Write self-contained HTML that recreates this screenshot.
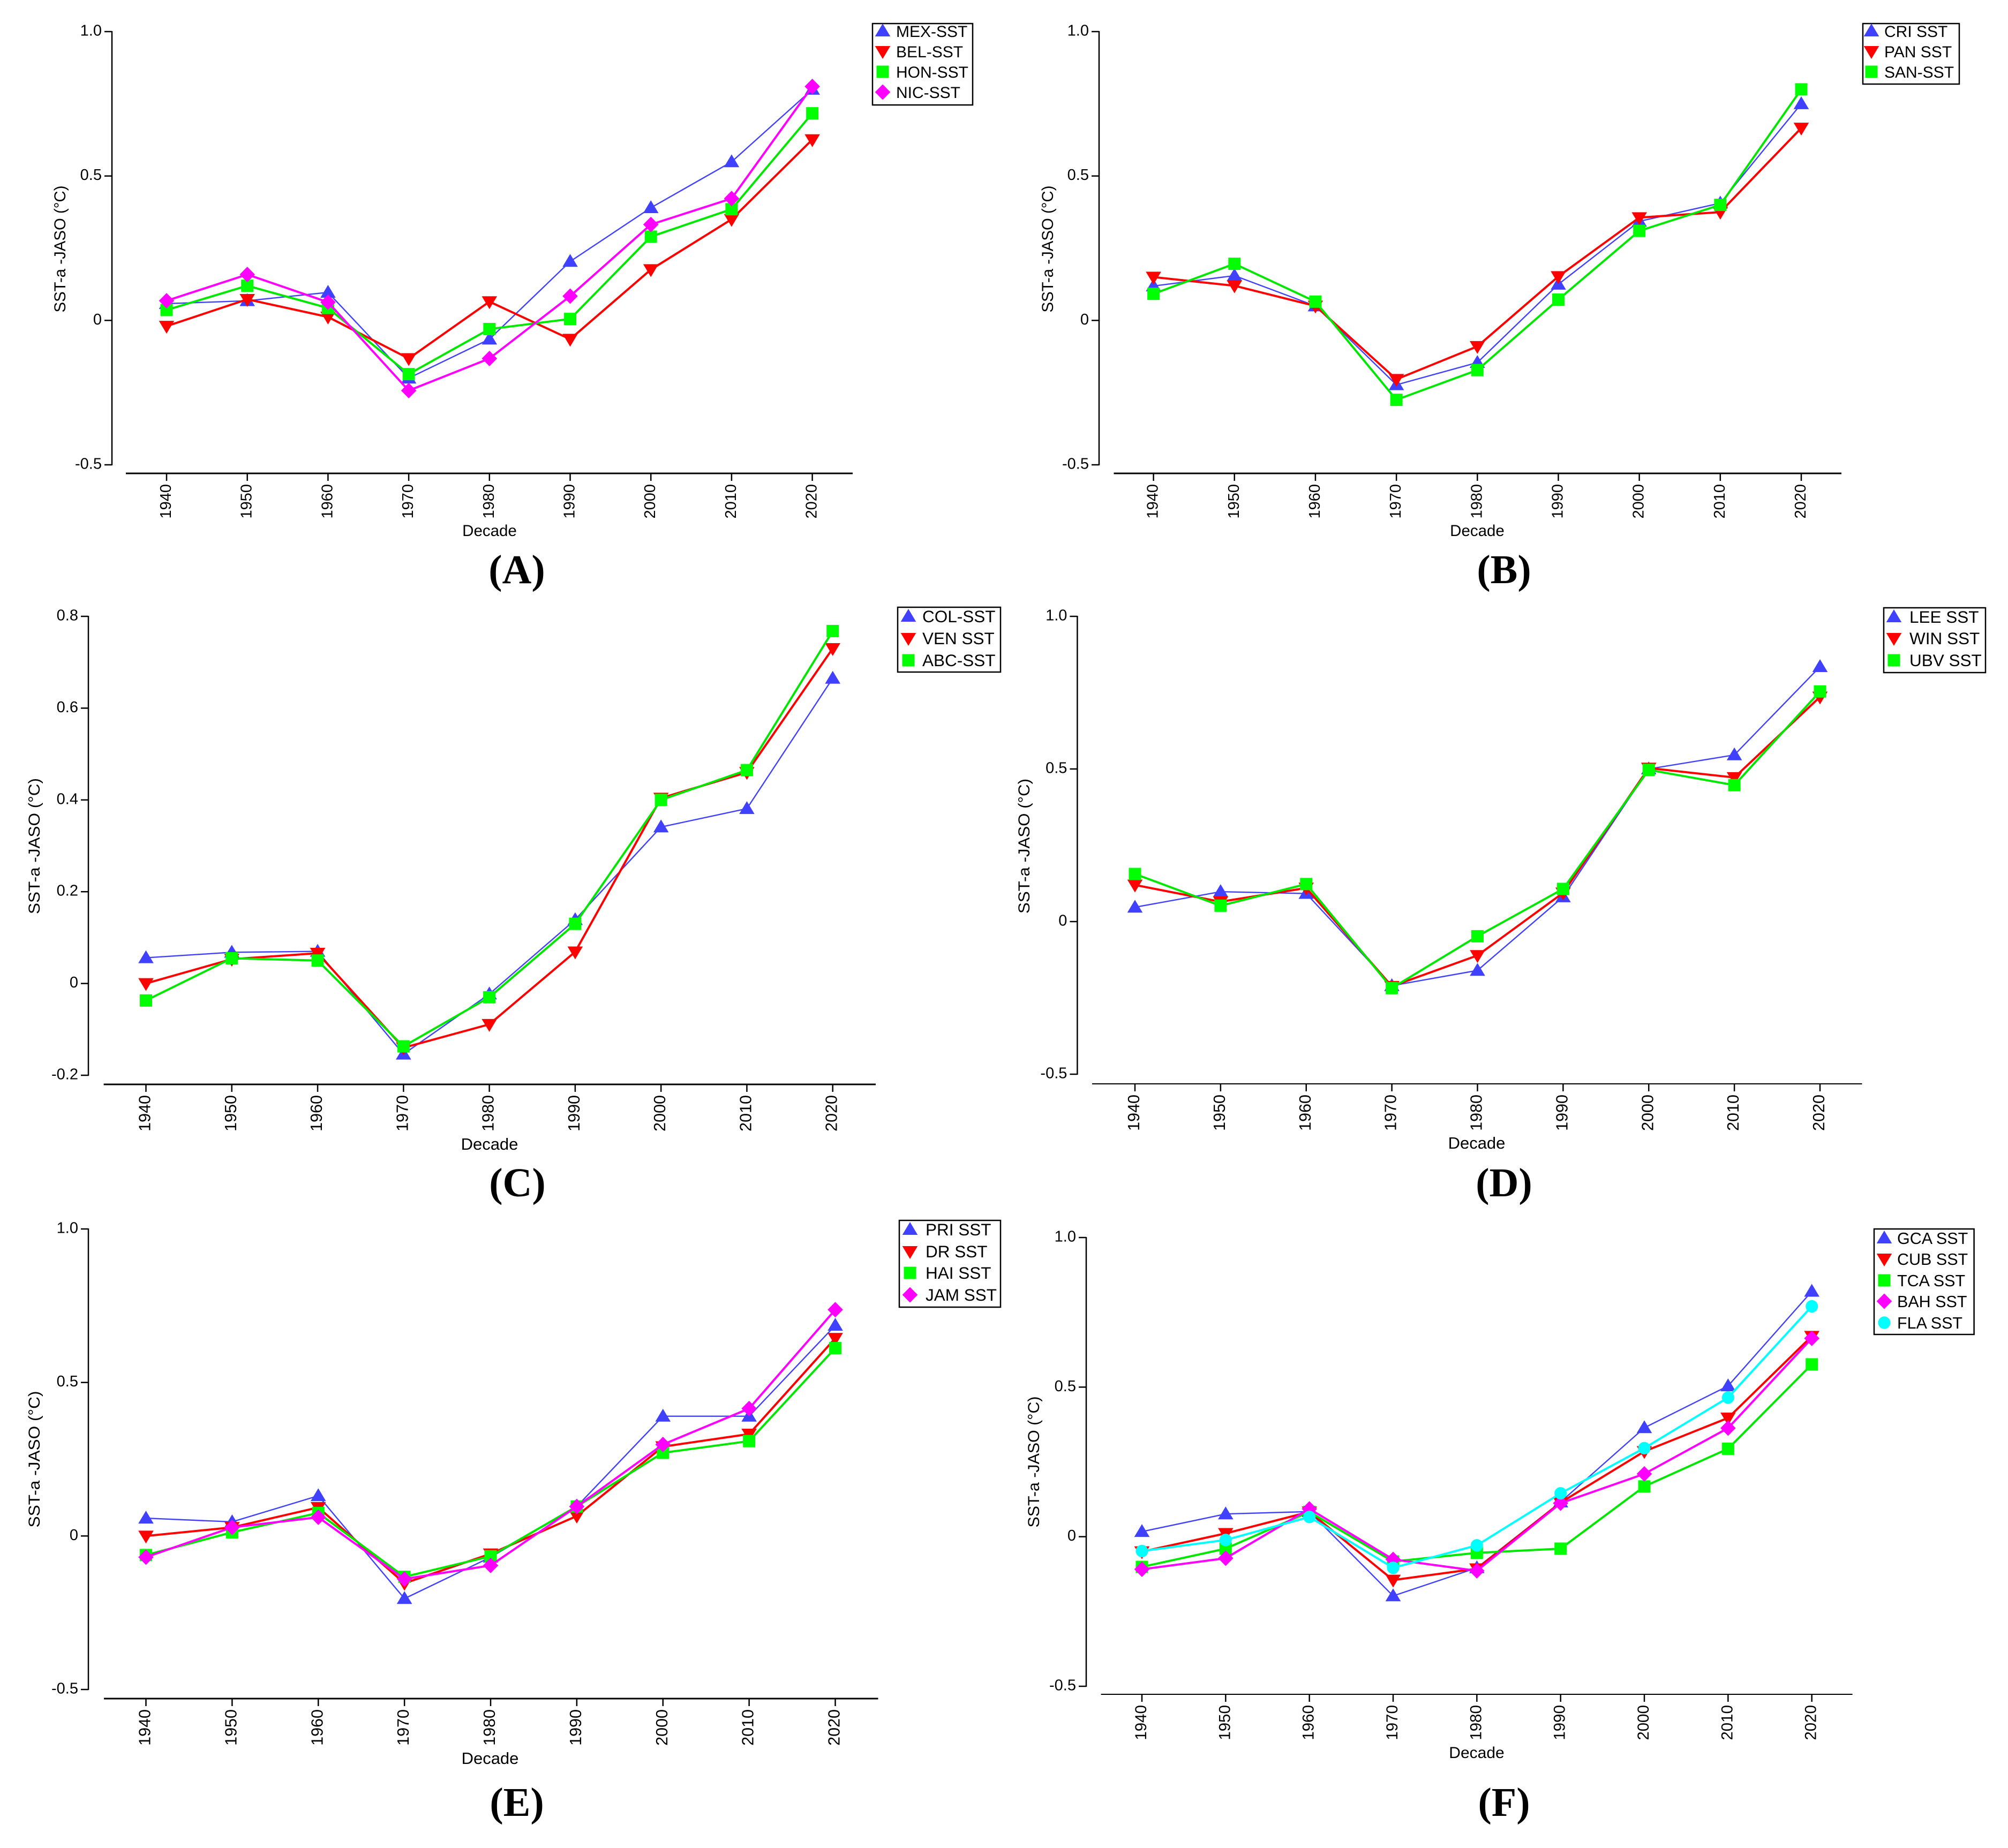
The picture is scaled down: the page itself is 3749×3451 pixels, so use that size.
<!DOCTYPE html>
<html lang="en">
<head>
<meta charset="utf-8">
<title>SST-a JASO by decade, panels A to F</title>
<style>
html,body{margin:0;padding:0;background:#fff;}
svg{display:block;}
text{font-family:"Liberation Sans",Arial,sans-serif;fill:#000;}
</style>
</head>
<body>
<svg id="figure" xmlns="http://www.w3.org/2000/svg" width="3749" height="3451" viewBox="0 0 3749 3451"></svg>
<script>
const decades = [1940, 1950, 1960, 1970, 1980, 1990, 2000, 2010, 2020];
const yTicksStandard = [-0.5, 0, 0.5, 1.0];
const yLabelsStandard = ['-0.5', '0', '0.5', '1.0'];
const yTicksC = [-0.2, 0, 0.2, 0.4, 0.6, 0.8];
const yLabelsC = ['-0.2', '0', '0.2', '0.4', '0.6', '0.8'];

const mexSst = [0.058, 0.068, 0.097, -0.200, -0.065, 0.204, 0.390, 0.549, 0.800];
const belSst = [-0.020, 0.073, 0.012, -0.132, 0.065, -0.065, 0.176, 0.350, 0.626];
const honSst = [0.036, 0.120, 0.043, -0.186, -0.030, 0.005, 0.290, 0.385, 0.717];
const nicSst = [0.068, 0.159, 0.063, -0.243, -0.132, 0.084, 0.332, 0.422, 0.810];

const criSst = [0.119, 0.155, 0.050, -0.223, -0.146, 0.125, 0.343, 0.406, 0.750];
const panSst = [0.150, 0.120, 0.050, -0.204, -0.090, 0.152, 0.356, 0.375, 0.666];
const sanSst = [0.092, 0.196, 0.065, -0.275, -0.172, 0.072, 0.310, 0.400, 0.800];

const colSst = [0.056, 0.068, 0.070, -0.154, -0.023, 0.139, 0.341, 0.381, 0.665];
const venSst = [0.000, 0.053, 0.066, -0.140, -0.089, 0.069, 0.404, 0.460, 0.730];
const abcSst = [-0.037, 0.055, 0.050, -0.137, -0.030, 0.130, 0.400, 0.465, 0.768];

const leeSst = [0.047, 0.098, 0.092, -0.210, -0.160, 0.081, 0.500, 0.546, 0.835];
const winSst = [0.120, 0.065, 0.110, -0.212, -0.111, 0.094, 0.503, 0.472, 0.736];
const ubvSst = [0.156, 0.052, 0.123, -0.218, -0.048, 0.107, 0.497, 0.447, 0.754];

const priSst = [0.058, 0.046, 0.131, -0.204, -0.069, 0.096, 0.390, 0.390, 0.686];
const drSst = [0.000, 0.028, 0.093, -0.154, -0.058, 0.065, 0.291, 0.332, 0.644];
const haiSst = [-0.062, 0.012, 0.075, -0.133, -0.066, 0.096, 0.271, 0.309, 0.612];
const jamSst = [-0.069, 0.028, 0.061, -0.140, -0.096, 0.096, 0.298, 0.415, 0.737];

const gcaSst = [0.017, 0.076, 0.084, -0.198, -0.104, 0.116, 0.364, 0.504, 0.820];
const cubSst = [-0.050, 0.011, 0.083, -0.145, -0.107, 0.114, 0.285, 0.397, 0.670];
const tcaSst = [-0.101, -0.040, 0.083, -0.083, -0.054, -0.040, 0.168, 0.294, 0.576];
const bahSst = [-0.109, -0.072, 0.093, -0.076, -0.114, 0.112, 0.210, 0.363, 0.663];
const flaSst = [-0.048, -0.011, 0.066, -0.104, -0.029, 0.145, 0.296, 0.465, 0.770];

const styleBlue = {color: '#4040ff', line: '#4040ff', width: 2.4, shape: 'up'};
const styleRed = {color: '#ff0000', line: '#ff0000', width: 4, shape: 'down'};
const styleGreen = {color: '#00ff00', line: '#00e800', width: 4, shape: 'square'};
const styleMagenta = {color: '#ff00ff', line: '#ff00ff', width: 4, shape: 'diamond'};
const styleCyan = {color: '#00ffff', line: '#00ffff', width: 4, shape: 'circle'};

const panels = [
  {id: 'A', ticks: yTicksStandard, labels: yLabelsStandard, axisX: 209, top: 59, bottom: 868, axisY: 884, left: 235, right: 1592, x0: 311, x1: 1516.6, axisW: 3, fs: 29.5,
   titleX: 122, titleY: 465, titleLen: 237, decadeX: 914, decadeY: 1001, capX: 965, capY: 1089,
   legend: {l: 1629, r: 1816, t: 44, b: 196, mx: 1648, tx: 1673, rows: [58, 96, 134, 172]},
   series: [['MEX-SST', mexSst, styleBlue], ['BEL-SST', belSst, styleRed], ['HON-SST', honSst, styleGreen], ['NIC-SST', nicSst, styleMagenta]]},
  {id: 'B', ticks: yTicksStandard, labels: yLabelsStandard, axisX: 2052, top: 59, bottom: 868, axisY: 884, left: 2079.5, right: 3438, x0: 2153.6, x1: 3363, axisW: 3, fs: 29.5,
   titleX: 1966, titleY: 465, titleLen: 237, decadeX: 2758, decadeY: 1001, capX: 2808, capY: 1089,
   legend: {l: 3478, r: 3658, t: 44, b: 157, mx: 3494, tx: 3518, rows: [58, 96, 134]},
   series: [['CRI SST', criSst, styleBlue], ['PAN SST', panSst, styleRed], ['SAN-SST', sanSst, styleGreen]]},
  {id: 'C', ticks: yTicksC, labels: yLabelsC, axisX: 165, top: 1151, bottom: 2008, axisY: 2025, left: 193.6, right: 1635, x0: 272.5, x1: 1554.7, axisW: 3, fs: 31,
   titleX: 74, titleY: 1580, titleLen: 254, decadeX: 914, decadeY: 2147, capX: 966, capY: 2234,
   legend: {l: 1676, r: 1868, t: 1134, b: 1255, mx: 1696, tx: 1722, rows: [1151, 1192, 1233]},
   series: [['COL-SST', colSst, styleBlue], ['VEN SST', venSst, styleRed], ['ABC-SST', abcSst, styleGreen]]},
  {id: 'D', ticks: yTicksStandard, labels: yLabelsStandard, axisX: 2011.4, top: 1151, bottom: 2006, axisY: 2024, left: 2039, right: 3476.5, x0: 2119, x1: 3398, axisW: 2, fs: 31,
   titleX: 1922, titleY: 1580, titleLen: 252, decadeX: 2757, decadeY: 2145, capX: 2808, capY: 2234,
   legend: {l: 3517, r: 3707, t: 1135, b: 1256, mx: 3536, tx: 3565, rows: [1152, 1192, 1233]},
   series: [['LEE SST', leeSst, styleBlue], ['WIN SST', winSst, styleRed], ['UBV SST', ubvSst, styleGreen]]},
  {id: 'E', ticks: yTicksStandard, labels: yLabelsStandard, axisX: 165, top: 2295, bottom: 3155, axisY: 3172, left: 194, right: 1639.5, x0: 272.5, x1: 1559.5, axisW: 3, fs: 31,
   titleX: 74, titleY: 2725, titleLen: 255, decadeX: 915, decadeY: 3294, capX: 965, capY: 3391,
   legend: {l: 1679, r: 1868, t: 2279, b: 2441, mx: 1699, tx: 1728, rows: [2296, 2337, 2377, 2418]},
   series: [['PRI SST', priSst, styleBlue], ['DR SST', drSst, styleRed], ['HAI SST', haiSst, styleGreen], ['JAM SST', jamSst, styleMagenta]]},
  {id: 'F', ticks: yTicksStandard, labels: yLabelsStandard, axisX: 2028, top: 2311, bottom: 3149, axisY: 3164, left: 2055.6, right: 3458.6, x0: 2132, x1: 3382.7, axisW: 2, fs: 30,
   titleX: 1940, titleY: 2730, titleLen: 245, decadeX: 2757, decadeY: 3283, capX: 2808, capY: 3391,
   legend: {l: 3499, r: 3685.6, t: 2295, b: 2492, mx: 3518, tx: 3542, rows: [2312, 2351, 2391, 2430, 2470]},
   series: [['GCA SST', gcaSst, styleBlue], ['CUB SST', cubSst, styleRed], ['TCA SST', tcaSst, styleGreen], ['BAH SST', bahSst, styleMagenta], ['FLA SST', flaSst, styleCyan]]}
];

const NS = 'http://www.w3.org/2000/svg';
const figure = document.getElementById('figure');

function slug(s) {
  return s.toLowerCase().replace(/[^a-z0-9]+/g, '-');
}

function node(parent, tag) {
  const n = document.createElementNS(NS, tag);
  parent.appendChild(n);
  return n;
}

function segment(parent, x1, y1, x2, y2, width) {
  const el = node(parent, 'line');
  
  
  el.setAttribute('x1', x1);
  el.setAttribute('y1', y1);
  el.setAttribute('x2', x2);
  el.setAttribute('y2', y2);
  el.setAttribute('stroke', '#000');
  el.setAttribute('stroke-width', width);
  return el;
}

function marker(parent, shape, cx, cy, color, name) {
  let el;
  if (shape === 'circle') {
    el = node(parent, 'ellipse');
    el.setAttribute('cx', cx);
    el.setAttribute('cy', cy);
    el.setAttribute('rx', 11.5);
    el.setAttribute('ry', 11.7);
  } else if (shape === 'square') {
    el = node(parent, 'rect');
    el.setAttribute('x', cx - 11.5);
    el.setAttribute('y', cy - 11.5);
    el.setAttribute('width', 23);
    el.setAttribute('height', 23);
  } else {
    el = node(parent, 'polygon');
    let pts = '';
    if (shape === 'up') pts = [cx, cy - 14, cx + 14.3, cy + 10, cx - 14.3, cy + 10].join(' ');
    if (shape === 'down') pts = [cx - 14.3, cy - 10, cx + 14.3, cy - 10, cx, cy + 14].join(' ');
    if (shape === 'diamond') pts = [cx, cy - 14.5, cx + 14.3, cy, cx, cy + 14.5, cx - 14.3, cy].join(' ');
    el.setAttribute('points', pts);
  }
  el.setAttribute('fill', color);
  
  
  return el;
}

function drawPanel(p) {
  const panel = node(figure, 'g');
  
  

  const minV = p.ticks[0];
  const maxV = p.ticks[p.ticks.length - 1];
  const yScale = v => p.bottom + (v - minV) / (maxV - minV) * (p.top - p.bottom);
  const firstDecade = decades[0];
  const lastDecade = decades[decades.length - 1];
  const xScale = d => p.x0 + (d - firstDecade) / (lastDecade - firstDecade) * (p.x1 - p.x0);

  const yAxis = node(panel, 'g');
  
  
  segment(yAxis, p.axisX, p.top - 1, p.axisX, p.bottom + 1, 2.5);
  p.ticks.forEach((v, i) => {
    const yy = yScale(v);
    segment(yAxis, p.axisX - 14, yy, p.axisX, yy, 2.5);
    const label = node(yAxis, 'text');
    
    
    label.setAttribute('x', p.axisX - 19);
    label.setAttribute('y', yy + 7.5);
    label.setAttribute('text-anchor', 'end');
    label.setAttribute('font-size', 29);
    label.textContent = p.labels[i];
  });

  const xAxis = node(panel, 'g');
  
  
  segment(xAxis, p.left, p.axisY, p.right, p.axisY, p.axisW);
  decades.forEach(d => {
    const xx = xScale(d);
    segment(xAxis, xx, p.axisY, xx, p.axisY + 14, 2.5);
    const label = node(xAxis, 'text');
    
    
    label.setAttribute('transform', 'translate(' + (xx + 8) + ' ' + (p.axisY + 20) + ') rotate(-90)');
    label.setAttribute('text-anchor', 'end');
    label.setAttribute('font-size', p.fs - 0.5);
    label.textContent = String(d);
  });

  const yTitle = node(panel, 'text');
  
  
  yTitle.setAttribute('transform', 'translate(' + p.titleX + ' ' + p.titleY + ') rotate(-90)');
  yTitle.setAttribute('text-anchor', 'middle');
  yTitle.setAttribute('font-size', 29.5);
  yTitle.setAttribute('textLength', p.titleLen);
  yTitle.setAttribute('lengthAdjust', 'spacingAndGlyphs');
  yTitle.textContent = 'SST-a -JASO (°C)';

  const xTitle = node(panel, 'text');
  
  
  xTitle.setAttribute('x', p.decadeX);
  xTitle.setAttribute('y', p.decadeY);
  xTitle.setAttribute('text-anchor', 'middle');
  xTitle.setAttribute('font-size', p.fs);
  xTitle.textContent = 'Decade';

  const caption = node(panel, 'text');
  
  
  caption.setAttribute('x', p.capX);
  caption.setAttribute('y', p.capY);
  caption.setAttribute('text-anchor', 'middle');
  caption.setAttribute('font-size', 76);
  caption.setAttribute('font-weight', 'bold');
  caption.setAttribute('style', 'font-family:"Liberation Serif",serif');
  caption.textContent = '(' + p.id + ')';

  p.series.forEach(s => {
    const name = s[0];
    const values = s[1];
    const style = s[2];
    const group = node(panel, 'g');
    
    
    const path = node(group, 'polyline');
    
    
    path.setAttribute('fill', 'none');
    path.setAttribute('stroke', style.line);
    path.setAttribute('stroke-width', style.width);
    path.setAttribute('points', values.map((v, i) => xScale(decades[i]) + ',' + yScale(v)).join(' '));
    values.forEach((v, i) => {
      marker(group, style.shape, xScale(decades[i]), yScale(v), style.color, 'point-' + slug(name));
    });
  });

  const lg = p.legend;
  const legend = node(panel, 'g');
  
  
  const box = node(legend, 'rect');
  
  
  box.setAttribute('x', lg.l);
  box.setAttribute('y', lg.t);
  box.setAttribute('width', lg.r - lg.l);
  box.setAttribute('height', lg.b - lg.t);
  box.setAttribute('fill', '#fff');
  box.setAttribute('stroke', '#000');
  box.setAttribute('stroke-width', 2.5);
  p.series.forEach((s, i) => {
    const name = s[0];
    const style = s[2];
    const entry = node(legend, 'g');
    
    
    marker(entry, style.shape, lg.mx, lg.rows[i], style.color, 'legend-marker');
    const label = node(entry, 'text');
    
    
    label.setAttribute('x', lg.tx);
    label.setAttribute('y', lg.rows[i] + 11);
    label.setAttribute('font-size', p.fs + 0.5);
    label.textContent = name;
  });
}

panels.forEach(drawPanel);
</script>
</body>
</html>
